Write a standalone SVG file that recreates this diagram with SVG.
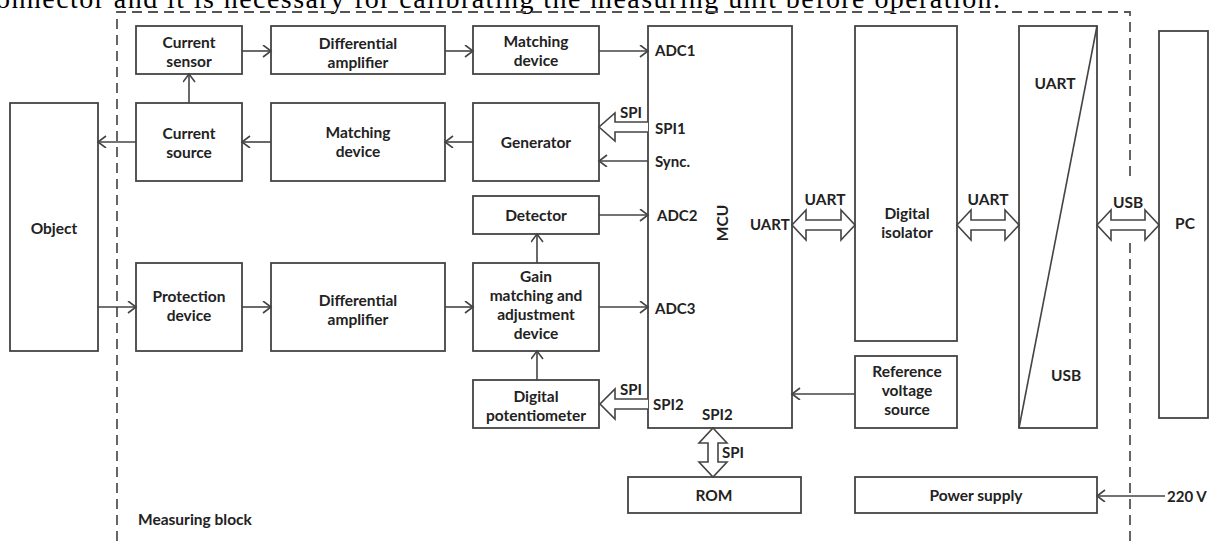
<svg xmlns="http://www.w3.org/2000/svg" width="1212" height="541" viewBox="0 0 1212 541">
<defs>
<style>
.box{fill:#fff;stroke:#444;stroke-width:1.8}
.t{font-family:Lato,"Noto Sans",sans-serif;font-weight:bold;font-size:15.5px;fill:#222;text-anchor:middle;dominant-baseline:central}
.l{font-family:Lato,"Noto Sans",sans-serif;font-weight:bold;font-size:15px;fill:#222;dominant-baseline:central}
.c{fill:none;stroke:#444;stroke-width:1.6;marker-end:url(#ah)}
.h{fill:#fff;stroke:#444;stroke-width:1.6;stroke-linejoin:miter}
.d{fill:none;stroke:#555;stroke-width:1.8;stroke-dasharray:10,6}
</style>
<marker id="ah" markerUnits="userSpaceOnUse" markerWidth="12" markerHeight="14" refX="9" refY="6" orient="auto">
<path d="M1,0 L9,6 L1,12" fill="none" stroke="#444" stroke-width="1.6"/>
</marker>
</defs>
<rect width="1212" height="541" fill="#fff"/>
<text x="-4" y="8" font-family="Liberation Serif, serif" font-size="28" fill="#000" textLength="1004" lengthAdjust="spacing">onnector and it is necessary for calibrating the measuring unit before operation.</text>

<g id="boundary">
<path class="d" d="M117,541 L117,12 L1130,12 L1130,180"/>
<path class="d" d="M1130,243 L1130,541"/>
<text class="l" x="138" y="519" style="font-size:15.5px">Measuring block</text>
</g>

<g id="object"><rect class="box" x="10" y="103" width="88" height="248"/><text class="t" x="54" y="228">Object</text></g>
<g id="current-sensor"><rect class="box" x="136" y="26" width="106" height="48"/><text class="t" x="189" y="42">Current</text><text class="t" x="189" y="61">sensor</text></g>
<g id="diff-amp-1"><rect class="box" x="271" y="26" width="174" height="48"/><text class="t" x="358" y="43">Differential</text><text class="t" x="358" y="62">amplifier</text></g>
<g id="matching-1"><rect class="box" x="473" y="26" width="126" height="48"/><text class="t" x="536" y="41">Matching</text><text class="t" x="536" y="60">device</text></g>
<g id="current-source"><rect class="box" x="136" y="103" width="106" height="78"/><text class="t" x="189" y="133">Current</text><text class="t" x="189" y="152">source</text></g>
<g id="matching-2"><rect class="box" x="271" y="103" width="174" height="78"/><text class="t" x="358" y="132">Matching</text><text class="t" x="358" y="151">device</text></g>
<g id="generator"><rect class="box" x="473" y="103" width="126" height="78"/><text class="t" x="536" y="142">Generator</text></g>
<g id="detector"><rect class="box" x="473" y="196" width="126" height="38"/><text class="t" x="536" y="215">Detector</text></g>
<g id="protection"><rect class="box" x="136" y="263" width="106" height="88"/><text class="t" x="189" y="296">Protection</text><text class="t" x="189" y="315">device</text></g>
<g id="diff-amp-2"><rect class="box" x="271" y="263" width="174" height="88"/><text class="t" x="358" y="300">Differential</text><text class="t" x="358" y="319">amplifier</text></g>
<g id="gain"><rect class="box" x="473" y="263" width="126" height="88"/><text class="t" x="536" y="276">Gain</text><text class="t" x="536" y="295">matching and</text><text class="t" x="536" y="314">adjustment</text><text class="t" x="536" y="333">device</text></g>
<g id="digital-pot"><rect class="box" x="473" y="380" width="126" height="48"/><text class="t" x="536" y="396">Digital</text><text class="t" x="536" y="415">potentiometer</text></g>
<g id="mcu"><rect class="box" x="648" y="26" width="144" height="402"/>
<text class="l" x="655" y="50">ADC1</text>
<text class="l" x="655" y="128">SPI1</text>
<text class="l" x="655" y="161">Sync.</text>
<text class="l" x="657" y="215">ADC2</text>
<text class="l" x="655" y="308">ADC3</text>
<text class="l" x="653" y="404">SPI2</text>
<text class="l" x="702" y="414">SPI2</text>
<text class="l" x="750" y="224">UART</text>
<text class="t" x="0" y="0" transform="translate(722,223) rotate(-90)">MCU</text>
</g>
<g id="isolator"><rect class="box" x="855" y="26" width="102" height="315"/><text class="t" x="907" y="213">Digital</text><text class="t" x="907" y="232">isolator</text></g>
<g id="reference"><rect class="box" x="855" y="356" width="102" height="72"/><text class="t" x="907" y="371">Reference</text><text class="t" x="907" y="390">voltage</text><text class="t" x="907" y="409">source</text></g>
<g id="converter"><rect class="box" x="1019" y="26" width="78" height="402"/><line x1="1019" y1="428" x2="1097" y2="26" stroke="#444" stroke-width="1.6"/><text class="t" x="1055" y="83">UART</text><text class="t" x="1066" y="375">USB</text></g>
<g id="pc"><rect class="box" x="1159" y="31" width="49" height="387"/><text class="t" x="1185" y="223">PC</text></g>
<g id="rom"><rect class="box" x="628" y="477" width="173" height="36"/><text class="t" x="714" y="495">ROM</text></g>
<g id="power"><rect class="box" x="855" y="477" width="242" height="36"/><text class="t" x="976" y="495">Power supply</text></g>

<g id="connectors">
<line class="c" x1="242" y1="51" x2="271" y2="51"/>
<line class="c" x1="445" y1="51" x2="473" y2="51"/>
<line class="c" x1="599" y1="51" x2="648" y2="51"/>
<line class="c" x1="189" y1="103" x2="189" y2="74"/>
<line class="c" x1="473" y1="142" x2="445" y2="142"/>
<line class="c" x1="271" y1="142" x2="242" y2="142"/>
<line class="c" x1="136" y1="142" x2="98" y2="142"/>
<line class="c" x1="648" y1="161" x2="599" y2="161"/>
<line class="c" x1="599" y1="215" x2="648" y2="215"/>
<line class="c" x1="537" y1="263" x2="537" y2="234"/>
<line class="c" x1="599" y1="307" x2="648" y2="307"/>
<line class="c" x1="537" y1="380" x2="537" y2="351"/>
<line class="c" x1="98" y1="307" x2="136" y2="307"/>
<line class="c" x1="242" y1="307" x2="271" y2="307"/>
<line class="c" x1="445" y1="307" x2="473" y2="307"/>
<line class="c" x1="855" y1="394" x2="792" y2="394"/>
<line class="c" x1="1165" y1="496" x2="1097" y2="496"/>
<polyline class="h" points="648,122 615,122 615,113 599,127 615,141 615,132 648,132"/>
<polyline class="h" points="648,399 615,399 615,389 600,404 615,419 615,409 648,409"/>
<polygon class="h" points="792,225 806,210 806,220 841,220 841,210 855,225 841,240 841,230 806,230 806,240"/>
<polygon class="h" points="957,225 971,210 971,220 1005,220 1005,210 1019,225 1005,240 1005,230 971,230 971,240"/>
<polygon class="h" points="1097,225 1111,210 1111,220 1145,220 1145,210 1159,225 1145,240 1145,230 1111,230 1111,240"/>
<polygon class="h" points="713,428 727,443 718,443 718,462 727,462 713,477 699,462 708,462 708,443 699,443"/>
<text class="l" x="620" y="112">SPI</text>
<text class="l" x="620" y="389">SPI</text>
<text class="l" x="722" y="452">SPI</text>
<text class="t" x="825" y="199">UART</text>
<text class="t" x="988" y="199">UART</text>
<text class="t" x="1128" y="202">USB</text>
<text class="l" x="1167" y="496">220 V</text>
</g>
</svg>
